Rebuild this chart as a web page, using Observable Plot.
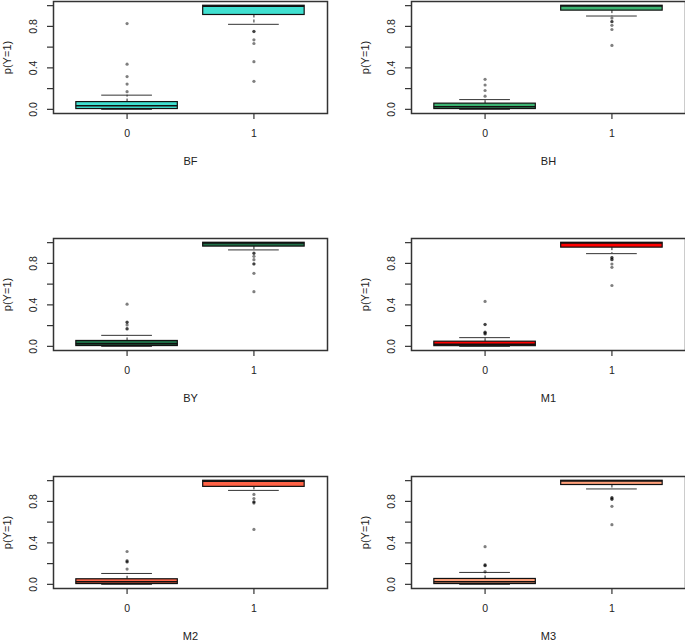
<!DOCTYPE html>
<html>
<head>
<meta charset="utf-8">
<script src="https://cdn.jsdelivr.net/npm/d3@7"></script>
<script src="https://cdn.jsdelivr.net/npm/@observablehq/plot@0.6"></script>
<style>
  html, body { margin: 0; padding: 0; background: #fff; }
  #wrap { position: relative; width: 685px; height: 641px; overflow: hidden; background: #fff; }
  .panel { position: absolute; width: 358px; height: 238px; }
  svg { font-family: "Liberation Sans", Arial, sans-serif; }
</style>
</head>
<body>
<div id="wrap"></div>
<script>
// ---- data ----
const panelNames = ["BF", "BH", "BY", "M1", "M2", "M3"];
const panelColors = ["#40E0D0", "#3CB371", "#1F6E47", "#FF0000", "#FF6347", "#FFA07A"];
const groups = ["0", "1"];
const yTicks = [0, 0.2, 0.4, 0.6, 0.8, 1.0];
const yTickLabels = [0, 0.4, 0.8];

// per panel: [group0, group1]
const whiskerLow = [[0.0, 0.82], [0.0, 0.90], [0.0, 0.93], [0.0, 0.894], [0.0, 0.906], [0.0, 0.92]];
const boxLow     = [[0.003, 0.91], [0.003, 0.952], [0.003, 0.962], [0.002, 0.952], [0.003, 0.94], [0.003, 0.958]];
const medians    = [[0.035, 0.995], [0.025, 0.996], [0.025, 0.997], [0.02, 0.996], [0.025, 0.995], [0.025, 0.996]];
const boxHigh    = [[0.07, 0.999], [0.055, 0.999], [0.052, 0.999], [0.045, 0.999], [0.049, 0.999], [0.052, 0.999]];
const whiskerHigh= [[0.137, 1.0], [0.094, 1.0], [0.106, 1.0], [0.084, 1.0], [0.105, 1.0], [0.115, 1.0]];

const outliers0 = [
  [0.17, 0.244, 0.316, 0.436, 0.827],
  [0.127, 0.182, 0.235, 0.29],
  [0.168, 0.17, 0.207, 0.232, 0.234, 0.407],
  [0.12, 0.122, 0.135, 0.137, 0.21, 0.212, 0.433],
  [0.147, 0.216, 0.218, 0.229, 0.317],
  [0.124, 0.18, 0.182, 0.19, 0.363]
];
const outliers1 = [
  [0.75, 0.752, 0.67, 0.635, 0.46, 0.27],
  [0.88, 0.845, 0.847, 0.81, 0.77, 0.616],
  [0.897, 0.899, 0.868, 0.836, 0.794, 0.796, 0.704, 0.527],
  [0.855, 0.857, 0.836, 0.838, 0.794, 0.762, 0.587],
  [0.867, 0.827, 0.794, 0.796, 0.784, 0.53],
  [0.834, 0.836, 0.82, 0.822, 0.752, 0.575]
];

const yLabel = "p(Y=1)";

// ---- layout ----
const colLeft = [0, 358];
const rowTop = [0, 237, 475];
const boxHalf = 0.4;   // boxwex 0.8
const capHalf = 0.2;   // staplewex 0.5
const ink = "#222";

const wrap = document.getElementById("wrap");

panelNames.forEach((name, p) => {
  const stats = groups.map((g, i) => ({
    pos: i + 1,
    wl: whiskerLow[p][i], q1: boxLow[p][i], med: medians[p][i],
    q3: boxHigh[p][i], wh: whiskerHigh[p][i]
  }));
  const outs = [];
  [outliers0[p], outliers1[p]].forEach((arr, i) => arr.forEach(v => outs.push({pos: i + 1, v})));

  const chart = Plot.plot({
    width: 358,
    height: 238,
    marginLeft: 53,
    marginRight: 31,
    marginTop: 1,
    marginBottom: 125,
    x: {domain: [0.42, 2.58], axis: null},
    y: {domain: [-0.04, 1.04], axis: null},
    style: {fontFamily: "Liberation Sans, Arial, sans-serif", background: "white", overflow: "visible"},
    marks: [
      // whiskers (dashed) and staples
      Plot.ruleX(stats, {x: "pos", y1: "q3", y2: "wh", stroke: ink, strokeWidth: 1, strokeDasharray: "3,2"}),
      Plot.ruleX(stats, {x: "pos", y1: "q1", y2: "wl", stroke: ink, strokeWidth: 1, strokeDasharray: "3,2"}),
      Plot.ruleY(stats, {y: "wh", x1: d => d.pos - capHalf, x2: d => d.pos + capHalf, stroke: "#333", strokeWidth: 1}),
      Plot.ruleY(stats, {y: "wl", x1: d => d.pos - capHalf, x2: d => d.pos + capHalf, stroke: "#333", strokeWidth: 1}),
      // boxes
      Plot.rect(stats, {x1: d => d.pos - boxHalf, x2: d => d.pos + boxHalf, y1: "q1", y2: "q3",
        fill: panelColors[p], stroke: "#111", strokeWidth: 1.2}),
      // medians
      Plot.ruleY(stats, {y: "med", x1: d => d.pos - boxHalf, x2: d => d.pos + boxHalf, stroke: "#111", strokeWidth: 1.6}),
      // outliers
      Plot.dot(outs, {x: "pos", y: "v", r: 1.6, fill: "black", fillOpacity: 0.5, stroke: "none"}),
      // frame
      Plot.frame({stroke: "#333", strokeWidth: 1.5}),
      // axis ticks
      Plot.axisY(yTicks, {tickSize: 6, fill: "none", stroke: "#333", strokeWidth: 1.2, label: null}),
      Plot.axisX([1, 2], {tickSize: 6, fill: "none", stroke: "#333", strokeWidth: 1.2, label: null}),
      // y tick labels (rotated, as in R)
      Plot.text(yTickLabels, {y: d => d, text: d => d.toFixed(1), frameAnchor: "left", dx: -20,
        rotate: -90, textAnchor: "middle", lineAnchor: "middle", fontSize: 10.5, fill: ink}),
      // x tick labels
      Plot.text([1, 2], {x: d => d, text: d => groups[d - 1], frameAnchor: "bottom", dy: 20,
        lineAnchor: "middle", fontSize: 10.5, fill: ink}),
      // axis titles
      Plot.text([yLabel], {text: d => d, frameAnchor: "left", dx: -46, rotate: -90,
        textAnchor: "middle", lineAnchor: "middle", fontSize: 11, fill: ink}),
      Plot.text([name], {text: d => d, frameAnchor: "bottom", dy: 48,
        lineAnchor: "middle", fontSize: 11, fill: ink})
    ]
  });

  const div = document.createElement("div");
  div.className = "panel";
  div.style.left = colLeft[p % 2] + "px";
  div.style.top = rowTop[Math.floor(p / 2)] + "px";
  div.appendChild(chart);
  wrap.appendChild(div);
});
</script>
</body>
</html>
